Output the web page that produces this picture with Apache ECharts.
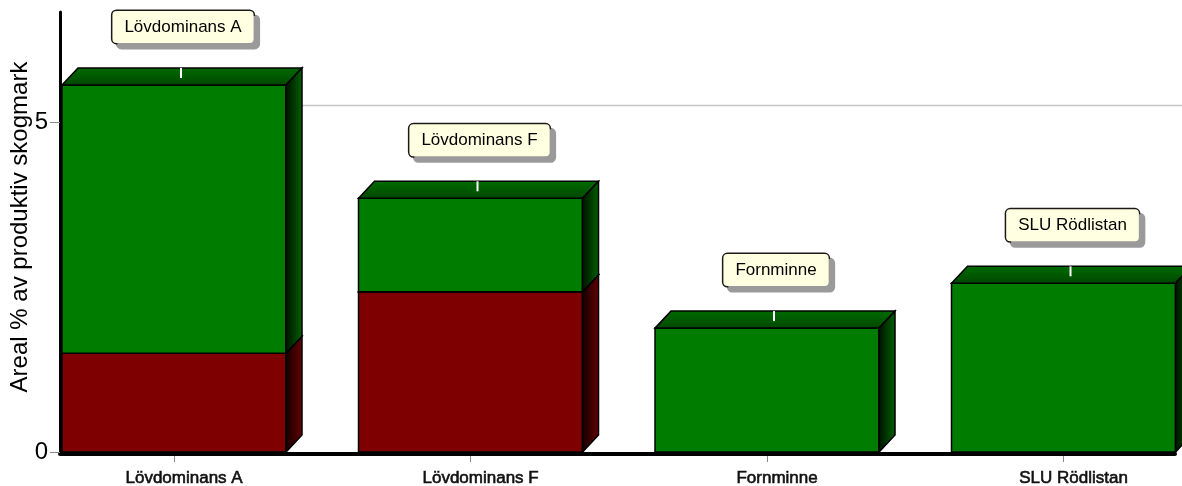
<!DOCTYPE html>
<html><head><meta charset="utf-8">
<script src="https://cdn.jsdelivr.net/npm/echarts@6/dist/echarts.min.js"></script>
<style>html,body{margin:0;padding:0;background:#fff}#c{width:1182px;height:486px}</style>
</head><body><div id="c"></div>
<script>
// ---- data ----
const categories = ['Lövdominans A', 'Lövdominans F', 'Fornminne', 'SLU Rödlistan'];
const redValues = [1.5, 2.43, 0, 0];
const greenValues = [4.07, 1.42, 1.88, 2.56];
const yTickValues = [0, 5];
const yAxisTitle = 'Areal % av produktiv skogmark';

// ---- styling / layout ----
const DX = 16, DY = 17;
const BAR_W = 0.7555;
const XMIN = -0.3845, XMAX = 3.376, LABEL_SHIFT = 0.034;
const YMAX = 6.677;
const FONT = '"Liberation Sans", Arial, sans-serif';
const catIdx = categories.map((c, i) => i);

function lg(x, y, x2, y2, c0, c1) {
  return new echarts.graphic.LinearGradient(x, y, x2, y2, [{offset: 0, color: c0}, {offset: 1, color: c1}]);
}
const palettes = {
  red: {front: '#7f0000', top: ['#6a0000', '#450000'], side: ['#100000', '#680000']},
  green: {front: '#007d00', top: ['#006c00', '#004600'], side: ['#001000', '#006200']}
};

function barRenderer(pal) {
  return function (params, api) {
    const i = api.value(0), base = api.value(1), top = api.value(2);
    if (!(top - base > 0)) return null;
    const pL = api.coord([i - BAR_W / 2, top]);
    const pR = api.coord([i + BAR_W / 2, base]);
    const x0 = pL[0], yT = pL[1], x1 = pR[0], yB = pR[1];
    return {
      type: 'group',
      children: [
        {type: 'rect', shape: {x: x0, y: yT, width: x1 - x0, height: yB - yT},
          style: {fill: pal.front, stroke: '#000', lineWidth: 1.5}},
        {type: 'polygon', shape: {points: [[x0, yT], [x0 + DX, yT - DY], [x1 + DX, yT - DY], [x1, yT]]},
          style: {fill: lg(0, 0, 0, 1, pal.top[0], pal.top[1]), stroke: '#000', lineWidth: 1.5}},
        {type: 'polygon', shape: {points: [[x1, yT], [x1 + DX, yT - DY], [x1 + DX, yB - DY], [x1, yB]]},
          style: {fill: lg(0, 0, 1, 0, pal.side[0], pal.side[1]), stroke: '#000', lineWidth: 1.5}}
      ]
    };
  };
}

const redData = catIdx.map(i => [i, 0, redValues[i]]);
const greenData = catIdx.map(i => [i, redValues[i], redValues[i] + greenValues[i]]);
const totalData = catIdx.map(i => [i, redValues[i] + greenValues[i]]);
const gridData = yTickValues.filter(v => v > 0).map(v => [0, v]);

const chart = echarts.init(document.getElementById('c'), null, {renderer: 'canvas'});
chart.setOption({
  animation: false,
  backgroundColor: '#fff',
  grid: {left: 60, right: 7, top: 12, bottom: 34, containLabel: false, outerBoundsMode: 'none'},
  xAxis: [
    {type: 'value', min: XMIN, max: XMAX, position: 'bottom', offset: 2,
      axisLine: {show: true, onZero: false, lineStyle: {color: '#000', width: 4}},
      axisTick: {show: false}, axisLabel: {show: false}, splitLine: {show: false}},
    {type: 'value', min: XMIN, max: XMAX, position: 'bottom', offset: 4,
      axisLine: {show: false, onZero: false},
      axisTick: {show: true, customValues: catIdx, length: 6, lineStyle: {color: '#8a8a8a', width: 1}},
      axisLabel: {show: false}, splitLine: {show: false}},
    {type: 'value', min: XMIN - LABEL_SHIFT, max: XMAX - LABEL_SHIFT, position: 'bottom', offset: 0,
      axisLine: {show: false, onZero: false}, axisTick: {show: false}, splitLine: {show: false},
      axisLabel: {show: true, customValues: catIdx, formatter: v => categories[Math.round(v)],
        margin: 18, fontSize: 17, color: '#111', fontFamily: FONT,
        textBorderColor: '#111', textBorderWidth: 0.6}}
  ],
  yAxis: {
    type: 'value', min: 0, max: YMAX, position: 'left',
    axisLine: {show: true, onZero: false, lineStyle: {color: '#000', width: 3}},
    axisTick: {show: true, customValues: yTickValues, length: 10, lineStyle: {color: '#8a8a8a', width: 1}},
    axisLabel: {show: true, customValues: yTickValues, fontSize: 24, color: '#000', fontFamily: FONT,
      margin: 12, padding: [10, 0, 0, 0]},
    splitLine: {show: false}
  },
  graphic: [{
    type: 'text', x: 20, y: 227, rotation: Math.PI / 2,
    style: {text: yAxisTitle, font: '24px ' + FONT, fill: '#000', align: 'center', verticalAlign: 'middle'}
  }],
  series: [
    {type: 'custom', name: 'grid', clip: false, data: gridData, z: 1,
      renderItem: function (params, api) {
        const cs = params.coordSys;
        const y = api.coord([0, api.value(1)])[1] - DY;
        return {type: 'line', shape: {x1: cs.x + DX, y1: y, x2: cs.x + cs.width + DX + 20, y2: y},
          style: {stroke: '#c4c4c4', lineWidth: 1.5}};
      }},
    {type: 'custom', name: 'red', clip: false, data: redData, z: 2, renderItem: barRenderer(palettes.red)},
    {type: 'custom', name: 'green', clip: false, data: greenData, z: 2, renderItem: barRenderer(palettes.green)},
    {type: 'custom', name: 'labels', clip: false, data: totalData, z: 3,
      renderItem: function (params, api) {
        const i = api.value(0), tot = api.value(1);
        const p = api.coord([i, tot]);
        const backTop = p[1] - DY;
        return {
          type: 'group',
          children: [
            {type: 'line', shape: {x1: p[0] + 7, y1: backTop, x2: p[0] + 7, y2: backTop + 10},
              style: {stroke: '#ffffff', lineWidth: 2}},
            {type: 'text', x: p[0] + 9, y: backTop - 25,
              style: {text: categories[i], font: '17px ' + FONT, fill: '#000', align: 'center', verticalAlign: 'bottom',
                backgroundColor: '#ffffe1', borderColor: '#1a1a1a', borderWidth: 1.5, borderRadius: 4,
                padding: [8, 12, 7, 12], shadowColor: '#9a9a9a', shadowOffsetX: 5, shadowOffsetY: 5}}
          ]
        };
      }}
  ]
});
</script>
</body></html>
